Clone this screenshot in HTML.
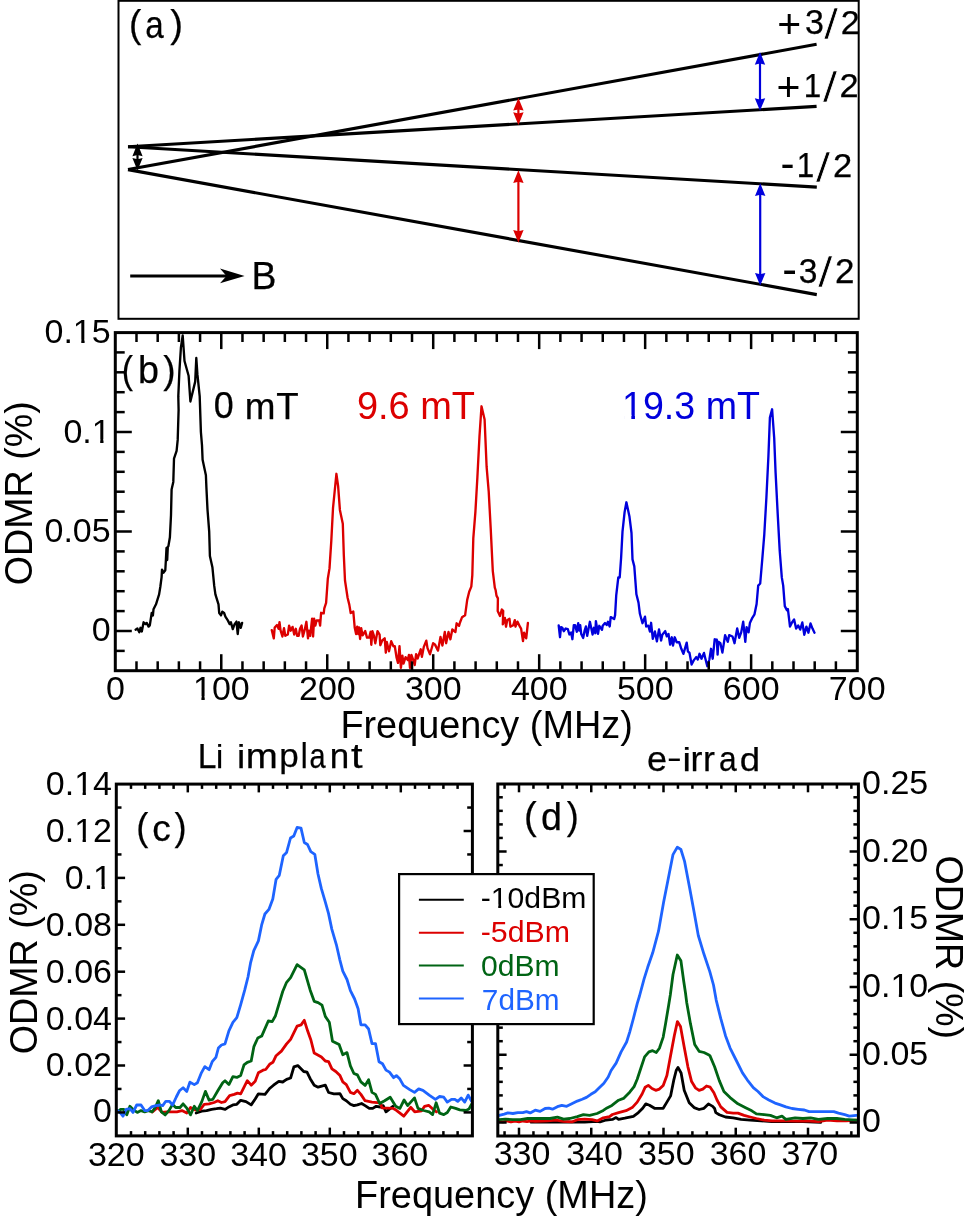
<!DOCTYPE html>
<html><head><meta charset="utf-8"><title>ODMR figure</title>
<style>html,body{margin:0;padding:0;background:#fff;overflow:hidden;}svg{display:block;will-change:transform;}
text{font-family:"Liberation Sans",sans-serif;}</style></head>
<body>
<svg width="969" height="1220" viewBox="0 0 969 1220">
<rect width="100%" height="100%" fill="#fff"/>
<rect x="118.5" y="0.8" width="740.2" height="318" fill="none" stroke="#000" stroke-width="2"/>
<line x1="128" y1="169.6" x2="816.6" y2="44.3" stroke="#000" stroke-width="3.1"/>
<line x1="128" y1="146.8" x2="816.6" y2="106.4" stroke="#000" stroke-width="3.1"/>
<line x1="128" y1="146.8" x2="816.8" y2="187.1" stroke="#000" stroke-width="3.1"/>
<line x1="128" y1="169.6" x2="816.8" y2="294.6" stroke="#000" stroke-width="3.1"/>
<line x1="137.5" y1="153.68" x2="137.5" y2="160.52" stroke="#000" stroke-width="2.2"/>
<path d="M137.5 143.6L142.6 156.2L137.5 155L132.4 156.2Z" fill="#000"/>
<path d="M137.5 170.6L142.6 158L137.5 159.2L132.4 158Z" fill="#000"/>
<line x1="518.4" y1="108.08" x2="518.4" y2="114.82" stroke="#dc0000" stroke-width="2.2"/>
<path d="M518.4 98L523.6 110.6L518.4 109.4L513.2 110.6Z" fill="#dc0000"/>
<path d="M518.4 124.9L523.6 112.3L518.4 113.5L513.2 112.3Z" fill="#dc0000"/>
<line x1="518.4" y1="180.38" x2="518.4" y2="232.62" stroke="#dc0000" stroke-width="2.2"/>
<path d="M518.4 170.3L523.6 182.9L518.4 181.7L513.2 182.9Z" fill="#dc0000"/>
<path d="M518.4 242.7L523.6 230.1L518.4 231.3L513.2 230.1Z" fill="#dc0000"/>
<line x1="760" y1="62.18" x2="760" y2="100.72" stroke="#0000dc" stroke-width="2.2"/>
<path d="M760 52.1L765.2 64.7L760 63.5L754.8 64.7Z" fill="#0000dc"/>
<path d="M760 110.8L765.2 98.2L760 99.4L754.8 98.2Z" fill="#0000dc"/>
<line x1="760.2" y1="193.38" x2="760.2" y2="275.52" stroke="#0000dc" stroke-width="2.2"/>
<path d="M760.2 183.3L765.4 195.9L760.2 194.7L755 195.9Z" fill="#0000dc"/>
<path d="M760.2 285.6L765.4 273L760.2 274.2L755 273Z" fill="#0000dc"/>
<line x1="130.2" y1="276" x2="232" y2="276" stroke="#000" stroke-width="3"/>
<path d="M244.6 276L220 268.4L226.5 276L220 283.3Z" fill="#000"/>
<polyline points="135.6,629.7 137.4,628.5 139.3,632.2 140.5,627.8 141.8,631.5 143.6,622.3 145.5,624.1 146.7,622.9 148.6,626.6 149.8,625.4 151.7,613 152.9,615.4 153.5,609.3 156,604.3 159.1,594.4 160.3,587 161.6,577.1 162,569.6 163.4,572.7 165.3,570.2 165.9,559.7 166.5,548 167.2,560 167.8,547 168.4,546.1 169.9,537.2 171,515.1 171.6,489.6 173.3,481.9 174,458.7 176.6,450.9 177.7,439.9 178.6,410 178.3,396.4 179.4,371.3 180.9,347.7 182.7,335.5 184.5,361 188.6,375.7 190.4,401.5 195.2,381.6 196.3,358 197.4,374.2 199.7,396.4 200.9,432.1 202,445.4 202.6,459.8 205.9,475.3 206.4,487.4 207.5,509.6 209.2,531.7 209.9,556 212.4,567.2 214.2,585.7 215.4,594.4 218.5,604.3 219.2,613 221,615.4 222.3,611.7 224.1,613 225.4,616.7 227.8,620.4 229.7,624.1 230.9,622.3 232.8,629.1 234.6,624.1 236.5,621.6 237.7,634 239,622.3 240.8,627.8 242.1,622.9" fill="none" stroke="#000" stroke-width="2.35" stroke-linejoin="round" stroke-linecap="round"/>
<polyline points="271.8,630.1 273.8,638.4 274.7,627.5 277,625 278.6,628.8 279.5,622.1 280.5,630.1 282.4,636.5 284,628.2 285.3,635.8 287.8,634.5 289.1,625.6 290.7,630.7 292.6,626.9 294.2,634.5 295.8,628.8 297.1,635.8 298.7,635.8 300,628.8 301.6,625.6 302.9,636.5 304.8,629.4 306.4,621.8 308,638.4 308.9,630.7 310.2,635.8 312.1,618.6 313.1,636.5 314.1,618.6 315.3,625.6 316.6,620.5 319.2,620.5 320.1,625.6 321.1,612.8 323.7,613.4 324.3,608.3 326.1,602.9 327.8,578.8 329.5,568.4 331.3,540.9 333,508.2 334.7,491 336.4,473.8 338.1,485.8 339.9,509.9 342.8,523.7 343.8,554.7 345,580.5 347.6,597.7 349.3,604.6 350.7,613 353.3,611.6 354.7,627.5 356.1,634 357.2,626.7 358.3,634 359,627.5 360.1,639 361.2,628.2 362.6,635.4 365.2,631.1 367,637.6 369.1,637.6 370.6,631.8 371.3,644.8 372.4,631.1 373.8,635.4 375.3,643.4 377.5,631.1 379.6,634.7 380.3,645.2 382.2,640.5 384.7,638.3 385.8,652.7 386.8,641.9 389,651.3 391.2,641.2 393.4,646.2 394.8,646.2 396.6,657.8 398,662.9 399.5,646.2 400.9,667.9 402.4,655.6 403.5,663.6 405.6,657.1 407.8,660 408.9,654.9 410,667.9 411.4,654.9 413.2,660 414.7,665 416.1,654.2 417.6,658.5 420.7,649.3 421.9,656.8 423.8,646.9 426.3,640.7 427.5,648.1 430,654.3 433.1,643.2 434.9,644.4 438,650.6 440.5,637 442.4,645.6 444.8,632 446.1,643.2 448.5,632 450.4,639.4 452.3,629.5 455.4,632 456.6,623.3 459.1,625.8 460,622.5 462,617.3 465.1,615.3 467.2,599.9 469.2,591.7 471.3,586.6 472.3,575.3 473.3,538.4 475.4,511.8 477.4,477 479.5,436 481.5,406.3 484.6,419.6 486.6,466.7 488.7,491.3 490.7,528.2 492.8,571.2 494.8,587.6 495.6,590 496.5,595.6 497.9,598.4 497.7,610.9 500,616 501.8,609.5 503.2,610.9 502.8,624.4 504.9,617.9 506,626.7 507.2,620.2 509.5,618.8 510.4,626.7 513.2,625.3 514.8,620.2 515.5,626.7 517.4,621.6 520.2,627.2 521.1,628.6 523,641.1 524.1,632.7 526.2,638.3 527.9,623" fill="none" stroke="#dc0000" stroke-width="2.35" stroke-linejoin="round" stroke-linecap="round"/>
<polyline points="558.7,625.5 560,637.2 561,627.1 562.4,627.8 563.7,631.2 565.7,628.5 567.8,629.2 569.4,634.5 571.1,632.5 572.4,639.2 573.8,625.1 575.1,625.1 576.8,631.8 578.2,623.1 579.2,630.5 580.2,625.1 581.2,633.9 583.2,637.9 584.5,631.2 585.9,626.5 587.2,635.9 589.9,621.8 592.6,634.5 593.9,627.8 595.3,633.2 595.9,621.1 598,633.9 599.3,625.8 602,629.8 602.7,625.8 605,623.1 606.7,625.1 608,621.8 609.7,626.5 610.7,617.1 614.1,619.1 615.1,615.1 616.2,595.7 618.3,577.5 619.7,577.5 621.1,558 622.5,531.6 624.6,512.1 626.4,502.3 629.4,516.2 631.5,533 632.5,559.4 634.3,566.4 636.4,594.3 638.5,602.6 639.9,613.8 642.5,623.2 645,616.6 646.2,626.5 648.3,625.7 649.9,631.5 651.1,622.8 652.8,638.9 654.9,631.5 656.9,641.4 659,629.4 661.1,640.6 662.3,634.8 665.2,631.1 666.8,636.4 668.5,633.9 670.1,644.7 671.8,637.3 673,645.5 674.7,637.3 676.7,642.2 679.2,642.2 681.3,648.8 683.4,653.8 686.7,642.6 687.9,651.3 689.5,652.9 691.6,664.5 693.7,660.4 696.2,657.1 697.8,659.5 699.5,653.8 701.5,658.7 704,652.9 705.2,657.9 707.3,666.2 709.4,659.5 711,648.8 712.7,658.7 714.7,639.3 716.8,639.7 717.6,654.6 718.4,641.8 720.4,643.2 722.4,652.6 725.1,635.1 727.8,641.8 729.2,635.1 732.5,636.5 734.5,643.2 737.2,628.4 739.2,637.8 741.2,632.4 743.2,621.7 745.3,641.8 746.6,627.1 748.6,632.4 749.9,623.1 752,618.4 754.5,614.3 756.6,604 758.2,585.6 760.2,583.5 762.3,558.9 764.3,534.3 766.4,497.5 768.4,456.5 769.9,417.5 772.1,409.3 774.2,438 775.6,472.9 777.7,513.9 779.7,550.7 781.8,577.4 783.2,585.6 784.8,606.1 786.9,610.2 787.9,609.1 790,626.6 792,622.5 794.1,619.4 796.1,628.6 798.2,625.5 800.2,629.6 802.3,622.5 804.3,634.8 806.4,626.6 808.4,632.7 810.5,623.5 812.5,628.6 814.5,632.7" fill="none" stroke="#0000dc" stroke-width="2.35" stroke-linejoin="round" stroke-linecap="round"/>
<line x1="136.49" y1="670.7" x2="136.49" y2="661.3" stroke="#000" stroke-width="2.5"/>
<line x1="136.49" y1="332.6" x2="136.49" y2="342" stroke="#000" stroke-width="2.5"/>
<line x1="157.69" y1="670.7" x2="157.69" y2="661.3" stroke="#000" stroke-width="2.5"/>
<line x1="157.69" y1="332.6" x2="157.69" y2="342" stroke="#000" stroke-width="2.5"/>
<line x1="178.88" y1="670.7" x2="178.88" y2="661.3" stroke="#000" stroke-width="2.5"/>
<line x1="178.88" y1="332.6" x2="178.88" y2="342" stroke="#000" stroke-width="2.5"/>
<line x1="200.08" y1="670.7" x2="200.08" y2="661.3" stroke="#000" stroke-width="2.5"/>
<line x1="200.08" y1="332.6" x2="200.08" y2="342" stroke="#000" stroke-width="2.5"/>
<line x1="221.27" y1="670.7" x2="221.27" y2="654.2" stroke="#000" stroke-width="2.5"/>
<line x1="221.27" y1="332.6" x2="221.27" y2="349.1" stroke="#000" stroke-width="2.5"/>
<line x1="242.46" y1="670.7" x2="242.46" y2="661.3" stroke="#000" stroke-width="2.5"/>
<line x1="242.46" y1="332.6" x2="242.46" y2="342" stroke="#000" stroke-width="2.5"/>
<line x1="263.66" y1="670.7" x2="263.66" y2="661.3" stroke="#000" stroke-width="2.5"/>
<line x1="263.66" y1="332.6" x2="263.66" y2="342" stroke="#000" stroke-width="2.5"/>
<line x1="284.85" y1="670.7" x2="284.85" y2="661.3" stroke="#000" stroke-width="2.5"/>
<line x1="284.85" y1="332.6" x2="284.85" y2="342" stroke="#000" stroke-width="2.5"/>
<line x1="306.05" y1="670.7" x2="306.05" y2="661.3" stroke="#000" stroke-width="2.5"/>
<line x1="306.05" y1="332.6" x2="306.05" y2="342" stroke="#000" stroke-width="2.5"/>
<line x1="327.24" y1="670.7" x2="327.24" y2="654.2" stroke="#000" stroke-width="2.5"/>
<line x1="327.24" y1="332.6" x2="327.24" y2="349.1" stroke="#000" stroke-width="2.5"/>
<line x1="348.43" y1="670.7" x2="348.43" y2="661.3" stroke="#000" stroke-width="2.5"/>
<line x1="348.43" y1="332.6" x2="348.43" y2="342" stroke="#000" stroke-width="2.5"/>
<line x1="369.63" y1="670.7" x2="369.63" y2="661.3" stroke="#000" stroke-width="2.5"/>
<line x1="369.63" y1="332.6" x2="369.63" y2="342" stroke="#000" stroke-width="2.5"/>
<line x1="390.82" y1="670.7" x2="390.82" y2="661.3" stroke="#000" stroke-width="2.5"/>
<line x1="390.82" y1="332.6" x2="390.82" y2="342" stroke="#000" stroke-width="2.5"/>
<line x1="412.02" y1="670.7" x2="412.02" y2="661.3" stroke="#000" stroke-width="2.5"/>
<line x1="412.02" y1="332.6" x2="412.02" y2="342" stroke="#000" stroke-width="2.5"/>
<line x1="433.21" y1="670.7" x2="433.21" y2="654.2" stroke="#000" stroke-width="2.5"/>
<line x1="433.21" y1="332.6" x2="433.21" y2="349.1" stroke="#000" stroke-width="2.5"/>
<line x1="454.4" y1="670.7" x2="454.4" y2="661.3" stroke="#000" stroke-width="2.5"/>
<line x1="454.4" y1="332.6" x2="454.4" y2="342" stroke="#000" stroke-width="2.5"/>
<line x1="475.6" y1="670.7" x2="475.6" y2="661.3" stroke="#000" stroke-width="2.5"/>
<line x1="475.6" y1="332.6" x2="475.6" y2="342" stroke="#000" stroke-width="2.5"/>
<line x1="496.79" y1="670.7" x2="496.79" y2="661.3" stroke="#000" stroke-width="2.5"/>
<line x1="496.79" y1="332.6" x2="496.79" y2="342" stroke="#000" stroke-width="2.5"/>
<line x1="517.99" y1="670.7" x2="517.99" y2="661.3" stroke="#000" stroke-width="2.5"/>
<line x1="517.99" y1="332.6" x2="517.99" y2="342" stroke="#000" stroke-width="2.5"/>
<line x1="539.18" y1="670.7" x2="539.18" y2="654.2" stroke="#000" stroke-width="2.5"/>
<line x1="539.18" y1="332.6" x2="539.18" y2="349.1" stroke="#000" stroke-width="2.5"/>
<line x1="560.37" y1="670.7" x2="560.37" y2="661.3" stroke="#000" stroke-width="2.5"/>
<line x1="560.37" y1="332.6" x2="560.37" y2="342" stroke="#000" stroke-width="2.5"/>
<line x1="581.57" y1="670.7" x2="581.57" y2="661.3" stroke="#000" stroke-width="2.5"/>
<line x1="581.57" y1="332.6" x2="581.57" y2="342" stroke="#000" stroke-width="2.5"/>
<line x1="602.76" y1="670.7" x2="602.76" y2="661.3" stroke="#000" stroke-width="2.5"/>
<line x1="602.76" y1="332.6" x2="602.76" y2="342" stroke="#000" stroke-width="2.5"/>
<line x1="623.96" y1="670.7" x2="623.96" y2="661.3" stroke="#000" stroke-width="2.5"/>
<line x1="623.96" y1="332.6" x2="623.96" y2="342" stroke="#000" stroke-width="2.5"/>
<line x1="645.15" y1="670.7" x2="645.15" y2="654.2" stroke="#000" stroke-width="2.5"/>
<line x1="645.15" y1="332.6" x2="645.15" y2="349.1" stroke="#000" stroke-width="2.5"/>
<line x1="666.34" y1="670.7" x2="666.34" y2="661.3" stroke="#000" stroke-width="2.5"/>
<line x1="666.34" y1="332.6" x2="666.34" y2="342" stroke="#000" stroke-width="2.5"/>
<line x1="687.54" y1="670.7" x2="687.54" y2="661.3" stroke="#000" stroke-width="2.5"/>
<line x1="687.54" y1="332.6" x2="687.54" y2="342" stroke="#000" stroke-width="2.5"/>
<line x1="708.73" y1="670.7" x2="708.73" y2="661.3" stroke="#000" stroke-width="2.5"/>
<line x1="708.73" y1="332.6" x2="708.73" y2="342" stroke="#000" stroke-width="2.5"/>
<line x1="729.93" y1="670.7" x2="729.93" y2="661.3" stroke="#000" stroke-width="2.5"/>
<line x1="729.93" y1="332.6" x2="729.93" y2="342" stroke="#000" stroke-width="2.5"/>
<line x1="751.12" y1="670.7" x2="751.12" y2="654.2" stroke="#000" stroke-width="2.5"/>
<line x1="751.12" y1="332.6" x2="751.12" y2="349.1" stroke="#000" stroke-width="2.5"/>
<line x1="772.31" y1="670.7" x2="772.31" y2="661.3" stroke="#000" stroke-width="2.5"/>
<line x1="772.31" y1="332.6" x2="772.31" y2="342" stroke="#000" stroke-width="2.5"/>
<line x1="793.51" y1="670.7" x2="793.51" y2="661.3" stroke="#000" stroke-width="2.5"/>
<line x1="793.51" y1="332.6" x2="793.51" y2="342" stroke="#000" stroke-width="2.5"/>
<line x1="814.7" y1="670.7" x2="814.7" y2="661.3" stroke="#000" stroke-width="2.5"/>
<line x1="814.7" y1="332.6" x2="814.7" y2="342" stroke="#000" stroke-width="2.5"/>
<line x1="835.9" y1="670.7" x2="835.9" y2="661.3" stroke="#000" stroke-width="2.5"/>
<line x1="835.9" y1="332.6" x2="835.9" y2="342" stroke="#000" stroke-width="2.5"/>
<line x1="115.3" y1="650.9" x2="124.7" y2="650.9" stroke="#000" stroke-width="2.5"/>
<line x1="857.3" y1="650.9" x2="847.9" y2="650.9" stroke="#000" stroke-width="2.5"/>
<line x1="115.3" y1="631" x2="131.8" y2="631" stroke="#000" stroke-width="2.5"/>
<line x1="857.3" y1="631" x2="840.8" y2="631" stroke="#000" stroke-width="2.5"/>
<line x1="115.3" y1="611.1" x2="124.7" y2="611.1" stroke="#000" stroke-width="2.5"/>
<line x1="857.3" y1="611.1" x2="847.9" y2="611.1" stroke="#000" stroke-width="2.5"/>
<line x1="115.3" y1="591.2" x2="124.7" y2="591.2" stroke="#000" stroke-width="2.5"/>
<line x1="857.3" y1="591.2" x2="847.9" y2="591.2" stroke="#000" stroke-width="2.5"/>
<line x1="115.3" y1="571.3" x2="124.7" y2="571.3" stroke="#000" stroke-width="2.5"/>
<line x1="857.3" y1="571.3" x2="847.9" y2="571.3" stroke="#000" stroke-width="2.5"/>
<line x1="115.3" y1="551.4" x2="124.7" y2="551.4" stroke="#000" stroke-width="2.5"/>
<line x1="857.3" y1="551.4" x2="847.9" y2="551.4" stroke="#000" stroke-width="2.5"/>
<line x1="115.3" y1="531.5" x2="131.8" y2="531.5" stroke="#000" stroke-width="2.5"/>
<line x1="857.3" y1="531.5" x2="840.8" y2="531.5" stroke="#000" stroke-width="2.5"/>
<line x1="115.3" y1="511.6" x2="124.7" y2="511.6" stroke="#000" stroke-width="2.5"/>
<line x1="857.3" y1="511.6" x2="847.9" y2="511.6" stroke="#000" stroke-width="2.5"/>
<line x1="115.3" y1="491.7" x2="124.7" y2="491.7" stroke="#000" stroke-width="2.5"/>
<line x1="857.3" y1="491.7" x2="847.9" y2="491.7" stroke="#000" stroke-width="2.5"/>
<line x1="115.3" y1="471.8" x2="124.7" y2="471.8" stroke="#000" stroke-width="2.5"/>
<line x1="857.3" y1="471.8" x2="847.9" y2="471.8" stroke="#000" stroke-width="2.5"/>
<line x1="115.3" y1="451.9" x2="124.7" y2="451.9" stroke="#000" stroke-width="2.5"/>
<line x1="857.3" y1="451.9" x2="847.9" y2="451.9" stroke="#000" stroke-width="2.5"/>
<line x1="115.3" y1="432" x2="131.8" y2="432" stroke="#000" stroke-width="2.5"/>
<line x1="857.3" y1="432" x2="840.8" y2="432" stroke="#000" stroke-width="2.5"/>
<line x1="115.3" y1="412.1" x2="124.7" y2="412.1" stroke="#000" stroke-width="2.5"/>
<line x1="857.3" y1="412.1" x2="847.9" y2="412.1" stroke="#000" stroke-width="2.5"/>
<line x1="115.3" y1="392.2" x2="124.7" y2="392.2" stroke="#000" stroke-width="2.5"/>
<line x1="857.3" y1="392.2" x2="847.9" y2="392.2" stroke="#000" stroke-width="2.5"/>
<line x1="115.3" y1="372.3" x2="124.7" y2="372.3" stroke="#000" stroke-width="2.5"/>
<line x1="857.3" y1="372.3" x2="847.9" y2="372.3" stroke="#000" stroke-width="2.5"/>
<line x1="115.3" y1="352.4" x2="124.7" y2="352.4" stroke="#000" stroke-width="2.5"/>
<line x1="857.3" y1="352.4" x2="847.9" y2="352.4" stroke="#000" stroke-width="2.5"/>
<rect x="115.3" y="332.6" width="742" height="338.1" fill="none" stroke="#000" stroke-width="3"/>
<polyline points="196.2,1113 201.7,1111.2 206.6,1110.6 211.6,1109.3 216.5,1108.7 220.3,1108.1 225.2,1109.3 228.9,1106.9 232.9,1104.9 236.8,1104.3 240.7,1100.3 246,1101.6 251.2,1104.9 255.2,1099 258.4,1093.8 265,1094.4 269.6,1088.5 273.5,1085.2 278.8,1081.3 282.7,1082 286.6,1079.3 290.6,1078 293.9,1066.9 297.8,1065.6 303.7,1071.5 307,1072.1 310.2,1078.7 314.2,1085.2 318.1,1087.2 325.3,1085.2 328.6,1092.5 333.9,1093.8 340,1093.7 342.8,1098.6 346.3,1100.7 350.4,1104.2 353.9,1105.6 357.4,1104.9 361.6,1103.5 365.1,1105.6 369.3,1108.4 372.7,1108.4 376.2,1106.3 380.4,1107 383.2,1105.6 386,1111.8 392.9,1106.3" fill="none" stroke="#000" stroke-width="2.8" stroke-linejoin="round" stroke-linecap="round"/>
<polyline points="152.4,1112 157.7,1107.5 162.1,1112.4 167,1111.8 172,1111.8 176.9,1111.8 181.9,1110.6 186.8,1113.1 190.5,1107.5 195.5,1110 200.4,1109.3 204.2,1104.4 209.1,1103.8 214.1,1102.5 217.8,1100.7 221.5,1102.5 225,1101.6 229.6,1095.7 234.2,1094.4 237.5,1093.1 240.7,1093.8 247.3,1080.7 251.2,1085.2 255.2,1081.3 258.4,1072.8 263,1070.2 265.7,1069.5 269.6,1064.3 272.9,1062.3 276.1,1055.7 281.4,1051.1 286.6,1043.9 290.6,1039.3 297.1,1026.2 301.1,1024.9 304.3,1020.3 307.6,1030.8 310.9,1040 314.2,1053.1 321.4,1057 325.3,1061 328.6,1061.6 331.9,1068.9 335.8,1071.5 340,1075.6 342.8,1081.9 346.3,1084.7 350.4,1092.4 353.9,1093.7 357.4,1090.3 360.9,1094.4 365.1,1100.7 372,1102.1 380,1102.8 382,1107.8 392.9,1108.3 396.4,1110.3 403.8,1116.2 410.7,1107.3 414.7,1111.8 421.6,1110.8 424.6,1106.3 428.6,1105.3 432.5,1108.8 436.5,1111.8" fill="none" stroke="#dc0000" stroke-width="2.8" stroke-linejoin="round" stroke-linecap="round"/>
<polyline points="117.5,1111.8 120.6,1109.3 123.7,1109.3 126.8,1114.9 129.9,1106.3 133.6,1110 137.3,1112.4 141,1110.6 144.7,1111.8 148.4,1110.6 152.2,1111.8 155.2,1107.5 158.3,1100.7 161.4,1111.8 165.2,1114.9 168.9,1110.6 172.6,1104.4 175.7,1107.5 180,1107.5 183.1,1103.8 186.8,1108.1 190.5,1114.9 194.3,1106.3 197.4,1110.6 201.7,1101.9 205.4,1091.4 209.1,1100.1 212.8,1099.4 217.8,1090.8 222.7,1082.7 225,1080.7 228.9,1084.6 232.9,1076.7 236.8,1077.4 240.7,1075.4 244,1064.9 247.3,1062.3 251.2,1061 253.9,1046.6 257.8,1038 261.7,1036.1 268.3,1021 272.2,1021.6 275.5,1015.7 282.7,991.5 286.6,982.3 290.6,977.7 297.1,964.6 304.3,969.8 310.2,990.2 314.2,1001.3 318.1,1002.6 322,1005.2 325.3,1016.4 329.3,1022.3 332.5,1041.3 339.1,1044.6 342.8,1054.7 347,1052.6 350.4,1065.9 353.9,1073.5 357.4,1074.9 360.9,1081.9 365.1,1085.4 368.6,1079.8 372,1092.4 375.5,1094.4 379.7,1103.5 384.6,1100.7 390.2,1097.2 395.7,1106.3 399.9,1108.4 404.1,1100 407.6,1105.6 414.5,1097.9 418,1108.4 423.6,1110.5 429.2,1111.9 432.6,1114.6 436.1,1102.8 439.6,1113.2 443.8,1114.6 447.3,1112.5 450.8,1107 455.6,1108.4 459.8,1109.8 466.1,1110.5 468.9,1109.1 471.6,1104.2" fill="none" stroke="#006414" stroke-width="2.8" stroke-linejoin="round" stroke-linecap="round"/>
<polyline points="117.5,1110.6 120.6,1113.1 123,1116.2 126.1,1109.3 129.9,1108.7 133,1112.4 136.7,1105 141,1105 144.7,1110.6 147.8,1110.6 151.5,1106.9 155.9,1105.6 160.2,1105 162.7,1105.6 165.8,1101.3 169.5,1101.3 172.6,1105 176.3,1097 179.4,1090.8 183.1,1087.7 186.8,1091.4 189.9,1082.1 194.3,1084.6 197.4,1082.7 201.1,1073.4 204.8,1066.6 209.1,1069.7 212.2,1061.7 215.9,1057.3 218.4,1048 221.5,1045 225,1043.9 228.9,1030.8 232.9,1022.3 236.8,1017.7 240.7,1004.6 244.7,990.2 248,977 250.5,963.2 253.8,950.7 258.4,940.9 261.6,925.2 264.9,914 268.9,909.4 272.8,898.9 276.1,879.3 279.3,875.3 283.3,855.7 286.6,852.4 290.5,838 293.8,836 297.1,827.5 301,828.1 304.3,842.5 307.5,844.5 310.8,851.7 314.8,854.3 318,874 321.3,888.4 325.2,901.6 328.5,913.4 331.8,929.1 336.4,944.8 339.7,959.3 342.8,971.1 347,979.5 350.4,990.6 354.6,999 358.1,1008.8 360.9,1024.8 365.1,1024.8 368.6,1029 372,1043.6 375.5,1043.6 379,1061.7 382.5,1063.8 386,1070.1 389.5,1072.1 393.6,1077.7 396.4,1075.6 399.9,1079.1 403.4,1085.4 409.7,1089.6 414.5,1092.4 418.7,1088.9 422.9,1090.3 429.2,1095.1 435.4,1099.3 439.6,1096.5 443.8,1097.2 447.3,1102.1 451.5,1099.3 454.9,1099.3 457.7,1101.4 461.2,1097.9 464.7,1102.1 468.2,1095.1 471.6,1101.4" fill="none" stroke="#1e64ff" stroke-width="2.8" stroke-linejoin="round" stroke-linecap="round"/>
<line x1="131" y1="1135.9" x2="131" y2="1131.1" stroke="#000" stroke-width="2.5"/>
<line x1="131" y1="784.1" x2="131" y2="788.9" stroke="#000" stroke-width="2.5"/>
<line x1="145.2" y1="1135.9" x2="145.2" y2="1131.1" stroke="#000" stroke-width="2.5"/>
<line x1="145.2" y1="784.1" x2="145.2" y2="788.9" stroke="#000" stroke-width="2.5"/>
<line x1="159.4" y1="1135.9" x2="159.4" y2="1131.1" stroke="#000" stroke-width="2.5"/>
<line x1="159.4" y1="784.1" x2="159.4" y2="788.9" stroke="#000" stroke-width="2.5"/>
<line x1="173.6" y1="1135.9" x2="173.6" y2="1131.1" stroke="#000" stroke-width="2.5"/>
<line x1="173.6" y1="784.1" x2="173.6" y2="788.9" stroke="#000" stroke-width="2.5"/>
<line x1="187.8" y1="1135.9" x2="187.8" y2="1127.6" stroke="#000" stroke-width="2.5"/>
<line x1="187.8" y1="784.1" x2="187.8" y2="792.4" stroke="#000" stroke-width="2.5"/>
<line x1="202" y1="1135.9" x2="202" y2="1131.1" stroke="#000" stroke-width="2.5"/>
<line x1="202" y1="784.1" x2="202" y2="788.9" stroke="#000" stroke-width="2.5"/>
<line x1="216.2" y1="1135.9" x2="216.2" y2="1131.1" stroke="#000" stroke-width="2.5"/>
<line x1="216.2" y1="784.1" x2="216.2" y2="788.9" stroke="#000" stroke-width="2.5"/>
<line x1="230.4" y1="1135.9" x2="230.4" y2="1131.1" stroke="#000" stroke-width="2.5"/>
<line x1="230.4" y1="784.1" x2="230.4" y2="788.9" stroke="#000" stroke-width="2.5"/>
<line x1="244.6" y1="1135.9" x2="244.6" y2="1131.1" stroke="#000" stroke-width="2.5"/>
<line x1="244.6" y1="784.1" x2="244.6" y2="788.9" stroke="#000" stroke-width="2.5"/>
<line x1="258.8" y1="1135.9" x2="258.8" y2="1127.6" stroke="#000" stroke-width="2.5"/>
<line x1="258.8" y1="784.1" x2="258.8" y2="792.4" stroke="#000" stroke-width="2.5"/>
<line x1="273" y1="1135.9" x2="273" y2="1131.1" stroke="#000" stroke-width="2.5"/>
<line x1="273" y1="784.1" x2="273" y2="788.9" stroke="#000" stroke-width="2.5"/>
<line x1="287.2" y1="1135.9" x2="287.2" y2="1131.1" stroke="#000" stroke-width="2.5"/>
<line x1="287.2" y1="784.1" x2="287.2" y2="788.9" stroke="#000" stroke-width="2.5"/>
<line x1="301.4" y1="1135.9" x2="301.4" y2="1131.1" stroke="#000" stroke-width="2.5"/>
<line x1="301.4" y1="784.1" x2="301.4" y2="788.9" stroke="#000" stroke-width="2.5"/>
<line x1="315.6" y1="1135.9" x2="315.6" y2="1131.1" stroke="#000" stroke-width="2.5"/>
<line x1="315.6" y1="784.1" x2="315.6" y2="788.9" stroke="#000" stroke-width="2.5"/>
<line x1="329.8" y1="1135.9" x2="329.8" y2="1127.6" stroke="#000" stroke-width="2.5"/>
<line x1="329.8" y1="784.1" x2="329.8" y2="792.4" stroke="#000" stroke-width="2.5"/>
<line x1="344" y1="1135.9" x2="344" y2="1131.1" stroke="#000" stroke-width="2.5"/>
<line x1="344" y1="784.1" x2="344" y2="788.9" stroke="#000" stroke-width="2.5"/>
<line x1="358.2" y1="1135.9" x2="358.2" y2="1131.1" stroke="#000" stroke-width="2.5"/>
<line x1="358.2" y1="784.1" x2="358.2" y2="788.9" stroke="#000" stroke-width="2.5"/>
<line x1="372.4" y1="1135.9" x2="372.4" y2="1131.1" stroke="#000" stroke-width="2.5"/>
<line x1="372.4" y1="784.1" x2="372.4" y2="788.9" stroke="#000" stroke-width="2.5"/>
<line x1="386.6" y1="1135.9" x2="386.6" y2="1131.1" stroke="#000" stroke-width="2.5"/>
<line x1="386.6" y1="784.1" x2="386.6" y2="788.9" stroke="#000" stroke-width="2.5"/>
<line x1="400.8" y1="1135.9" x2="400.8" y2="1127.6" stroke="#000" stroke-width="2.5"/>
<line x1="400.8" y1="784.1" x2="400.8" y2="792.4" stroke="#000" stroke-width="2.5"/>
<line x1="415" y1="1135.9" x2="415" y2="1131.1" stroke="#000" stroke-width="2.5"/>
<line x1="415" y1="784.1" x2="415" y2="788.9" stroke="#000" stroke-width="2.5"/>
<line x1="429.2" y1="1135.9" x2="429.2" y2="1131.1" stroke="#000" stroke-width="2.5"/>
<line x1="429.2" y1="784.1" x2="429.2" y2="788.9" stroke="#000" stroke-width="2.5"/>
<line x1="443.4" y1="1135.9" x2="443.4" y2="1131.1" stroke="#000" stroke-width="2.5"/>
<line x1="443.4" y1="784.1" x2="443.4" y2="788.9" stroke="#000" stroke-width="2.5"/>
<line x1="457.6" y1="1135.9" x2="457.6" y2="1131.1" stroke="#000" stroke-width="2.5"/>
<line x1="457.6" y1="784.1" x2="457.6" y2="788.9" stroke="#000" stroke-width="2.5"/>
<line x1="116.3" y1="1112.4" x2="125.1" y2="1112.4" stroke="#000" stroke-width="2.5"/>
<line x1="472.4" y1="1112.4" x2="463.6" y2="1112.4" stroke="#000" stroke-width="2.5"/>
<line x1="116.3" y1="1088.95" x2="121.5" y2="1088.95" stroke="#000" stroke-width="2.5"/>
<line x1="472.4" y1="1088.95" x2="467.2" y2="1088.95" stroke="#000" stroke-width="2.5"/>
<line x1="116.3" y1="1065.5" x2="125.1" y2="1065.5" stroke="#000" stroke-width="2.5"/>
<line x1="472.4" y1="1065.5" x2="463.6" y2="1065.5" stroke="#000" stroke-width="2.5"/>
<line x1="116.3" y1="1042.05" x2="121.5" y2="1042.05" stroke="#000" stroke-width="2.5"/>
<line x1="472.4" y1="1042.05" x2="467.2" y2="1042.05" stroke="#000" stroke-width="2.5"/>
<line x1="116.3" y1="1018.6" x2="125.1" y2="1018.6" stroke="#000" stroke-width="2.5"/>
<line x1="472.4" y1="1018.6" x2="463.6" y2="1018.6" stroke="#000" stroke-width="2.5"/>
<line x1="116.3" y1="995.15" x2="121.5" y2="995.15" stroke="#000" stroke-width="2.5"/>
<line x1="472.4" y1="995.15" x2="467.2" y2="995.15" stroke="#000" stroke-width="2.5"/>
<line x1="116.3" y1="971.7" x2="125.1" y2="971.7" stroke="#000" stroke-width="2.5"/>
<line x1="472.4" y1="971.7" x2="463.6" y2="971.7" stroke="#000" stroke-width="2.5"/>
<line x1="116.3" y1="948.25" x2="121.5" y2="948.25" stroke="#000" stroke-width="2.5"/>
<line x1="472.4" y1="948.25" x2="467.2" y2="948.25" stroke="#000" stroke-width="2.5"/>
<line x1="116.3" y1="924.8" x2="125.1" y2="924.8" stroke="#000" stroke-width="2.5"/>
<line x1="472.4" y1="924.8" x2="463.6" y2="924.8" stroke="#000" stroke-width="2.5"/>
<line x1="116.3" y1="901.35" x2="121.5" y2="901.35" stroke="#000" stroke-width="2.5"/>
<line x1="472.4" y1="901.35" x2="467.2" y2="901.35" stroke="#000" stroke-width="2.5"/>
<line x1="116.3" y1="877.9" x2="125.1" y2="877.9" stroke="#000" stroke-width="2.5"/>
<line x1="472.4" y1="877.9" x2="463.6" y2="877.9" stroke="#000" stroke-width="2.5"/>
<line x1="116.3" y1="854.45" x2="121.5" y2="854.45" stroke="#000" stroke-width="2.5"/>
<line x1="472.4" y1="854.45" x2="467.2" y2="854.45" stroke="#000" stroke-width="2.5"/>
<line x1="472.4" y1="831" x2="463.6" y2="831" stroke="#000" stroke-width="2.5"/>
<line x1="116.3" y1="807.55" x2="121.5" y2="807.55" stroke="#000" stroke-width="2.5"/>
<line x1="472.4" y1="807.55" x2="467.2" y2="807.55" stroke="#000" stroke-width="2.5"/>
<rect x="116.3" y="784.1" width="356.1" height="351.8" fill="none" stroke="#000" stroke-width="3"/>
<polyline points="531,1122.2 540,1121.8 560,1122.2 584.7,1122.2 597.1,1121.3 600,1121.9 606.2,1120 612.4,1119.4 616.1,1117.6 618.6,1119.4 624.8,1118.2 633.4,1116.3 638.4,1112.6 642.7,1108.3 645.8,1103.9 649.5,1105.2 654.5,1108.3 659.4,1108.3 663.2,1108.3 666.9,1102.1 670.6,1095.9 673.7,1080.4 676.2,1070.5 678,1067.4 681.1,1073 684.2,1090.3 689.2,1102.7 694.1,1107.6 699.1,1109.5 704,1108.3 708.4,1103.9 712.7,1106.4 714.6,1108.5 715.8,1112.6 719.3,1114.7 725.5,1117 733.2,1117.8 741,1119.3 750.2,1120.1 761.1,1120.9 771.9,1121.6 787.4,1121.6 802.9,1121.6 820.7,1122.4" fill="none" stroke="#000" stroke-width="2.8" stroke-linejoin="round" stroke-linecap="round"/>
<polyline points="499.2,1121.3 503,1121.9 507,1121 511,1122 515,1121.2 519,1121.9 523,1121 527,1121.6 531,1120.9 535.2,1121.3 547.5,1120.9 556.2,1120.1 563.6,1121.3 572.3,1121.8 577.3,1119.7 584.7,1119.1 592.1,1119.7 597.1,1120.9 603.3,1117.8 609.5,1116.6 612.4,1114.5 618.6,1112.6 626,1110.7 632.2,1107.6 637.2,1102.1 642.1,1094 645.2,1087.2 648.3,1085.4 652,1088.5 655.7,1090.3 659.4,1089.1 663.2,1085.4 666.9,1075.4 670.6,1055.6 674.3,1035.8 677.4,1021.6 680.5,1026.5 684.2,1047 687.9,1066.8 691.6,1081.6 695.4,1087.8 699.1,1090.3 702.8,1089.1 706.5,1086 710.2,1087.2 713.9,1092.8 717,1100 720.8,1106.9 727,1112.4 733.2,1113.1 737.9,1113.1 744.1,1115.4 750.2,1117 756.4,1118.5 764.2,1120.1 771.9,1120.9 779.7,1120.9 787.4,1120.9 796.7,1121.2 806,1120.9 818.4,1121.6 827.6,1120.1 836.9,1120.9 846.2,1120.9 856.3,1120.1" fill="none" stroke="#dc0000" stroke-width="2.8" stroke-linejoin="round" stroke-linecap="round"/>
<polyline points="499.2,1119.7 505.4,1119.1 512.9,1119.7 520.3,1119.7 527.7,1118.5 535.2,1118.5 542.6,1118.5 550,1118.5 557.4,1117.2 563.6,1119.1 569.8,1118.5 577.3,1116.6 583.4,1114.7 589.6,1115.4 597.1,1113.5 603.3,1110.4 607,1107.9 611.9,1105.4 618.6,1100.2 623.5,1098.4 629.7,1092.2 634.1,1086.6 637.2,1079.2 640.9,1068 644.6,1056.9 648.9,1051.9 652.6,1050.7 656.3,1052.5 659.4,1048.2 663.2,1037.1 665.6,1023.4 668.7,1004.9 670.3,995 673,974.5 677.3,955 680.9,960.8 683.8,981.7 685.5,993 686.7,1002.4 690.4,1023.4 694.7,1044.5 699.1,1051.3 704,1052.5 709,1055 710,1055.9 714.6,1066.7 719.3,1080.6 723.9,1091.5 730.1,1097.6 737.9,1103.8 745.6,1107.7 751.8,1110.8 756.4,1113.9 764.2,1114.7 770.4,1115.4 776.6,1117.8 782,1116.2 785.9,1119.3 795.1,1117.8 802.9,1118.5 810.6,1117.8 818.4,1119.3 827.6,1118.5 836.9,1118.5 844.7,1119.3 856.3,1120.1" fill="none" stroke="#006414" stroke-width="2.8" stroke-linejoin="round" stroke-linecap="round"/>
<polyline points="499.2,1115.4 504.2,1114.1 507.9,1112.9 512.9,1113.5 517.8,1112.6 522.8,1112.6 526.5,1111.6 530.2,1112.9 535.2,1110.2 540.1,1111.4 545.1,1108.5 548.8,1108.2 552.5,1109.2 557.4,1106.7 561.8,1105.4 566.7,1106.3 572.3,1103.6 577.3,1101.1 582.2,1099.3 586.5,1097.4 590.9,1094.3 595.2,1091.8 599.5,1087.5 603.9,1083.2 608.2,1077 611.1,1070.5 616.1,1063.1 621.1,1051.9 626.6,1042 629.7,1032.1 633.4,1018.5 637.2,1003.6 639.5,996 644.1,978.8 647.7,967.3 652.7,952.8 658.5,931.2 663.6,902.3 667.9,880.6 673,854.6 677.3,847.1 680.9,849.5 684.5,861.1 689.6,887.8 693.9,910.9 698.3,935.5 704,954.3 709.8,971.6 713.5,985 716.2,1000.1 720.8,1018.7 725.5,1035.7 730.1,1048.1 736.3,1060.5 742.5,1072.9 747.2,1079.8 753.3,1087.6 758,1091.5 763.4,1096.9 768.8,1100 775,1103.1 779.7,1104.6 785.9,1106.9 792,1108.5 798.2,1109.3 804.4,1110 809.1,1111.6 818.4,1111.6 827.6,1111.6 833.8,1111.6 838.5,1113.1 844.7,1114.7 849.3,1116.2 856.3,1115.4" fill="none" stroke="#1e64ff" stroke-width="2.8" stroke-linejoin="round" stroke-linecap="round"/>
<line x1="504.55" y1="1136" x2="504.55" y2="1131.2" stroke="#000" stroke-width="2.5"/>
<line x1="504.55" y1="784" x2="504.55" y2="788.8" stroke="#000" stroke-width="2.5"/>
<line x1="519" y1="1136" x2="519" y2="1127.7" stroke="#000" stroke-width="2.5"/>
<line x1="519" y1="784" x2="519" y2="792.3" stroke="#000" stroke-width="2.5"/>
<line x1="533.45" y1="1136" x2="533.45" y2="1131.2" stroke="#000" stroke-width="2.5"/>
<line x1="533.45" y1="784" x2="533.45" y2="788.8" stroke="#000" stroke-width="2.5"/>
<line x1="547.9" y1="1136" x2="547.9" y2="1131.2" stroke="#000" stroke-width="2.5"/>
<line x1="547.9" y1="784" x2="547.9" y2="788.8" stroke="#000" stroke-width="2.5"/>
<line x1="562.35" y1="1136" x2="562.35" y2="1131.2" stroke="#000" stroke-width="2.5"/>
<line x1="562.35" y1="784" x2="562.35" y2="788.8" stroke="#000" stroke-width="2.5"/>
<line x1="576.8" y1="1136" x2="576.8" y2="1131.2" stroke="#000" stroke-width="2.5"/>
<line x1="576.8" y1="784" x2="576.8" y2="788.8" stroke="#000" stroke-width="2.5"/>
<line x1="591.25" y1="1136" x2="591.25" y2="1127.7" stroke="#000" stroke-width="2.5"/>
<line x1="591.25" y1="784" x2="591.25" y2="792.3" stroke="#000" stroke-width="2.5"/>
<line x1="605.7" y1="1136" x2="605.7" y2="1131.2" stroke="#000" stroke-width="2.5"/>
<line x1="605.7" y1="784" x2="605.7" y2="788.8" stroke="#000" stroke-width="2.5"/>
<line x1="620.15" y1="1136" x2="620.15" y2="1131.2" stroke="#000" stroke-width="2.5"/>
<line x1="620.15" y1="784" x2="620.15" y2="788.8" stroke="#000" stroke-width="2.5"/>
<line x1="634.6" y1="1136" x2="634.6" y2="1131.2" stroke="#000" stroke-width="2.5"/>
<line x1="634.6" y1="784" x2="634.6" y2="788.8" stroke="#000" stroke-width="2.5"/>
<line x1="649.05" y1="1136" x2="649.05" y2="1131.2" stroke="#000" stroke-width="2.5"/>
<line x1="649.05" y1="784" x2="649.05" y2="788.8" stroke="#000" stroke-width="2.5"/>
<line x1="663.5" y1="1136" x2="663.5" y2="1127.7" stroke="#000" stroke-width="2.5"/>
<line x1="663.5" y1="784" x2="663.5" y2="792.3" stroke="#000" stroke-width="2.5"/>
<line x1="677.95" y1="1136" x2="677.95" y2="1131.2" stroke="#000" stroke-width="2.5"/>
<line x1="677.95" y1="784" x2="677.95" y2="788.8" stroke="#000" stroke-width="2.5"/>
<line x1="692.4" y1="1136" x2="692.4" y2="1131.2" stroke="#000" stroke-width="2.5"/>
<line x1="692.4" y1="784" x2="692.4" y2="788.8" stroke="#000" stroke-width="2.5"/>
<line x1="706.85" y1="1136" x2="706.85" y2="1131.2" stroke="#000" stroke-width="2.5"/>
<line x1="706.85" y1="784" x2="706.85" y2="788.8" stroke="#000" stroke-width="2.5"/>
<line x1="721.3" y1="1136" x2="721.3" y2="1131.2" stroke="#000" stroke-width="2.5"/>
<line x1="721.3" y1="784" x2="721.3" y2="788.8" stroke="#000" stroke-width="2.5"/>
<line x1="735.75" y1="1136" x2="735.75" y2="1127.7" stroke="#000" stroke-width="2.5"/>
<line x1="735.75" y1="784" x2="735.75" y2="792.3" stroke="#000" stroke-width="2.5"/>
<line x1="750.2" y1="1136" x2="750.2" y2="1131.2" stroke="#000" stroke-width="2.5"/>
<line x1="750.2" y1="784" x2="750.2" y2="788.8" stroke="#000" stroke-width="2.5"/>
<line x1="764.65" y1="1136" x2="764.65" y2="1131.2" stroke="#000" stroke-width="2.5"/>
<line x1="764.65" y1="784" x2="764.65" y2="788.8" stroke="#000" stroke-width="2.5"/>
<line x1="779.1" y1="1136" x2="779.1" y2="1131.2" stroke="#000" stroke-width="2.5"/>
<line x1="779.1" y1="784" x2="779.1" y2="788.8" stroke="#000" stroke-width="2.5"/>
<line x1="793.55" y1="1136" x2="793.55" y2="1131.2" stroke="#000" stroke-width="2.5"/>
<line x1="793.55" y1="784" x2="793.55" y2="788.8" stroke="#000" stroke-width="2.5"/>
<line x1="808" y1="1136" x2="808" y2="1127.7" stroke="#000" stroke-width="2.5"/>
<line x1="808" y1="784" x2="808" y2="792.3" stroke="#000" stroke-width="2.5"/>
<line x1="822.45" y1="1136" x2="822.45" y2="1131.2" stroke="#000" stroke-width="2.5"/>
<line x1="822.45" y1="784" x2="822.45" y2="788.8" stroke="#000" stroke-width="2.5"/>
<line x1="836.9" y1="1136" x2="836.9" y2="1131.2" stroke="#000" stroke-width="2.5"/>
<line x1="836.9" y1="784" x2="836.9" y2="788.8" stroke="#000" stroke-width="2.5"/>
<line x1="851.35" y1="1136" x2="851.35" y2="1131.2" stroke="#000" stroke-width="2.5"/>
<line x1="851.35" y1="784" x2="851.35" y2="788.8" stroke="#000" stroke-width="2.5"/>
<line x1="497.8" y1="1122.5" x2="506.6" y2="1122.5" stroke="#000" stroke-width="2.5"/>
<line x1="858.4" y1="1122.5" x2="849.6" y2="1122.5" stroke="#000" stroke-width="2.5"/>
<line x1="497.8" y1="1108.95" x2="502.8" y2="1108.95" stroke="#000" stroke-width="2.5"/>
<line x1="858.4" y1="1108.95" x2="853.4" y2="1108.95" stroke="#000" stroke-width="2.5"/>
<line x1="497.8" y1="1095.4" x2="502.8" y2="1095.4" stroke="#000" stroke-width="2.5"/>
<line x1="858.4" y1="1095.4" x2="853.4" y2="1095.4" stroke="#000" stroke-width="2.5"/>
<line x1="497.8" y1="1081.85" x2="502.8" y2="1081.85" stroke="#000" stroke-width="2.5"/>
<line x1="858.4" y1="1081.85" x2="853.4" y2="1081.85" stroke="#000" stroke-width="2.5"/>
<line x1="497.8" y1="1068.3" x2="502.8" y2="1068.3" stroke="#000" stroke-width="2.5"/>
<line x1="858.4" y1="1068.3" x2="853.4" y2="1068.3" stroke="#000" stroke-width="2.5"/>
<line x1="497.8" y1="1054.75" x2="506.6" y2="1054.75" stroke="#000" stroke-width="2.5"/>
<line x1="858.4" y1="1054.75" x2="849.6" y2="1054.75" stroke="#000" stroke-width="2.5"/>
<line x1="497.8" y1="1041.2" x2="502.8" y2="1041.2" stroke="#000" stroke-width="2.5"/>
<line x1="858.4" y1="1041.2" x2="853.4" y2="1041.2" stroke="#000" stroke-width="2.5"/>
<line x1="497.8" y1="1027.65" x2="502.8" y2="1027.65" stroke="#000" stroke-width="2.5"/>
<line x1="858.4" y1="1027.65" x2="853.4" y2="1027.65" stroke="#000" stroke-width="2.5"/>
<line x1="497.8" y1="1014.1" x2="502.8" y2="1014.1" stroke="#000" stroke-width="2.5"/>
<line x1="858.4" y1="1014.1" x2="853.4" y2="1014.1" stroke="#000" stroke-width="2.5"/>
<line x1="497.8" y1="1000.55" x2="502.8" y2="1000.55" stroke="#000" stroke-width="2.5"/>
<line x1="858.4" y1="1000.55" x2="853.4" y2="1000.55" stroke="#000" stroke-width="2.5"/>
<line x1="497.8" y1="987" x2="506.6" y2="987" stroke="#000" stroke-width="2.5"/>
<line x1="858.4" y1="987" x2="849.6" y2="987" stroke="#000" stroke-width="2.5"/>
<line x1="497.8" y1="973.45" x2="502.8" y2="973.45" stroke="#000" stroke-width="2.5"/>
<line x1="858.4" y1="973.45" x2="853.4" y2="973.45" stroke="#000" stroke-width="2.5"/>
<line x1="497.8" y1="959.9" x2="502.8" y2="959.9" stroke="#000" stroke-width="2.5"/>
<line x1="858.4" y1="959.9" x2="853.4" y2="959.9" stroke="#000" stroke-width="2.5"/>
<line x1="497.8" y1="946.35" x2="502.8" y2="946.35" stroke="#000" stroke-width="2.5"/>
<line x1="858.4" y1="946.35" x2="853.4" y2="946.35" stroke="#000" stroke-width="2.5"/>
<line x1="497.8" y1="932.8" x2="502.8" y2="932.8" stroke="#000" stroke-width="2.5"/>
<line x1="858.4" y1="932.8" x2="853.4" y2="932.8" stroke="#000" stroke-width="2.5"/>
<line x1="497.8" y1="919.25" x2="506.6" y2="919.25" stroke="#000" stroke-width="2.5"/>
<line x1="858.4" y1="919.25" x2="849.6" y2="919.25" stroke="#000" stroke-width="2.5"/>
<line x1="497.8" y1="905.7" x2="502.8" y2="905.7" stroke="#000" stroke-width="2.5"/>
<line x1="858.4" y1="905.7" x2="853.4" y2="905.7" stroke="#000" stroke-width="2.5"/>
<line x1="497.8" y1="892.15" x2="502.8" y2="892.15" stroke="#000" stroke-width="2.5"/>
<line x1="858.4" y1="892.15" x2="853.4" y2="892.15" stroke="#000" stroke-width="2.5"/>
<line x1="497.8" y1="878.6" x2="502.8" y2="878.6" stroke="#000" stroke-width="2.5"/>
<line x1="858.4" y1="878.6" x2="853.4" y2="878.6" stroke="#000" stroke-width="2.5"/>
<line x1="497.8" y1="865.05" x2="502.8" y2="865.05" stroke="#000" stroke-width="2.5"/>
<line x1="858.4" y1="865.05" x2="853.4" y2="865.05" stroke="#000" stroke-width="2.5"/>
<line x1="497.8" y1="851.5" x2="506.6" y2="851.5" stroke="#000" stroke-width="2.5"/>
<line x1="858.4" y1="851.5" x2="849.6" y2="851.5" stroke="#000" stroke-width="2.5"/>
<line x1="497.8" y1="837.95" x2="502.8" y2="837.95" stroke="#000" stroke-width="2.5"/>
<line x1="858.4" y1="837.95" x2="853.4" y2="837.95" stroke="#000" stroke-width="2.5"/>
<line x1="497.8" y1="824.4" x2="502.8" y2="824.4" stroke="#000" stroke-width="2.5"/>
<line x1="858.4" y1="824.4" x2="853.4" y2="824.4" stroke="#000" stroke-width="2.5"/>
<line x1="497.8" y1="810.85" x2="502.8" y2="810.85" stroke="#000" stroke-width="2.5"/>
<line x1="858.4" y1="810.85" x2="853.4" y2="810.85" stroke="#000" stroke-width="2.5"/>
<line x1="497.8" y1="797.3" x2="502.8" y2="797.3" stroke="#000" stroke-width="2.5"/>
<line x1="858.4" y1="797.3" x2="853.4" y2="797.3" stroke="#000" stroke-width="2.5"/>
<rect x="497.8" y="784" width="360.6" height="352" fill="none" stroke="#000" stroke-width="3"/>
<g font-family="'Liberation Sans', sans-serif" style="font-kerning:none">
<text x="129.07" y="37.44" font-size="38.59" textLength="12.37" lengthAdjust="spacingAndGlyphs" stroke="#000" stroke-width="0.25">(</text>
<text x="145.16" y="37.85" font-size="38.24" textLength="18.46" lengthAdjust="spacingAndGlyphs" stroke="#000" stroke-width="0.25">a</text>
<text x="170.15" y="37.44" font-size="38.59" textLength="12.75" lengthAdjust="spacingAndGlyphs" stroke="#000" stroke-width="0.25">)</text>
<text x="777.35" y="38.1" font-size="41.49" textLength="23.92" lengthAdjust="spacingAndGlyphs">+</text>
<text x="804.88" y="34.49" font-size="34.67" textLength="18.94" lengthAdjust="spacingAndGlyphs" stroke="#000" stroke-width="0.25">3</text>
<text x="824.1" y="39.19" font-size="41.8" textLength="14.1" lengthAdjust="spacingAndGlyphs" stroke="#fff" stroke-width="0.7">/</text>
<text x="840.86" y="33.92" font-size="33.87" textLength="18.98" lengthAdjust="spacingAndGlyphs" stroke="#000" stroke-width="0.25">2</text>
<text x="776.45" y="101.1" font-size="41.49" textLength="23.92" lengthAdjust="spacingAndGlyphs">+</text>
<text x="803.78" y="96.93" font-size="33.65" textLength="17.48" lengthAdjust="spacingAndGlyphs" stroke="#000" stroke-width="0.25">1</text>
<text x="822.8" y="102.19" font-size="41.67" textLength="14.5" lengthAdjust="spacingAndGlyphs" stroke="#fff" stroke-width="0.7">/</text>
<text x="839.55" y="96.93" font-size="33.15" textLength="19.11" lengthAdjust="spacingAndGlyphs" stroke="#000" stroke-width="0.25">2</text>
<text x="780.48" y="177.92" font-size="42.24" textLength="14.05" lengthAdjust="spacingAndGlyphs">-</text>
<text x="796.78" y="177.43" font-size="34.38" textLength="17.48" lengthAdjust="spacingAndGlyphs" stroke="#000" stroke-width="0.25">1</text>
<text x="815.8" y="182.3" font-size="41.12" textLength="14.5" lengthAdjust="spacingAndGlyphs" stroke="#fff" stroke-width="0.7">/</text>
<text x="832.94" y="177.43" font-size="33.87" textLength="19.23" lengthAdjust="spacingAndGlyphs" stroke="#000" stroke-width="0.25">2</text>
<text x="782.18" y="283.81" font-size="43.52" textLength="14.73" lengthAdjust="spacingAndGlyphs">-</text>
<text x="798.69" y="282.98" font-size="35.38" textLength="18.71" lengthAdjust="spacingAndGlyphs" stroke="#000" stroke-width="0.25">3</text>
<text x="818" y="287.49" font-size="42.08" textLength="14.5" lengthAdjust="spacingAndGlyphs" stroke="#fff" stroke-width="0.7">/</text>
<text x="834.91" y="282.52" font-size="34.16" textLength="19.47" lengthAdjust="spacingAndGlyphs" stroke="#000" stroke-width="0.25">2</text>
<text x="251.42" y="289.42" font-size="38.59" textLength="24.88" lengthAdjust="spacingAndGlyphs" stroke="#000" stroke-width="0.25">B</text>
<text x="121.68" y="383.12" font-size="38.16" textLength="11.24" lengthAdjust="spacingAndGlyphs" stroke="#000" stroke-width="0.25">(</text>
<text x="138.05" y="383.25" font-size="37.92" textLength="20.96" lengthAdjust="spacingAndGlyphs" stroke="#000" stroke-width="0.25">b</text>
<text x="163.16" y="383.12" font-size="38.16" textLength="12.37" lengthAdjust="spacingAndGlyphs" stroke="#000" stroke-width="0.25">)</text>
<text x="213.87" y="418.17" font-size="36.79" textLength="19.95" lengthAdjust="spacingAndGlyphs" stroke="#000" stroke-width="0.25">0</text>
<text x="244.83" y="418.52" font-size="36.52" textLength="30.73" lengthAdjust="spacingAndGlyphs" stroke="#000" stroke-width="0.25">m</text>
<text x="276.35" y="418.52" font-size="37.57" textLength="22.42" lengthAdjust="spacingAndGlyphs" stroke="#000" stroke-width="0.25">T</text>
<text x="356.92" y="418.8" font-size="38.8" textLength="118.15" lengthAdjust="spacingAndGlyphs" fill="#dc0000">9.6 mT</text>
<text x="622.04" y="418.7" font-size="38.8" textLength="137.93" lengthAdjust="spacingAndGlyphs" fill="#0000dc">19.3 mT</text>
<text x="110.7" y="343.2" font-size="34" text-anchor="end">0.15</text>
<text x="110.7" y="442.7" font-size="34" text-anchor="end">0.1</text>
<text x="110.7" y="542.2" font-size="34" text-anchor="end">0.05</text>
<text x="110.7" y="640.7" font-size="34" text-anchor="end">0</text>
<text x="115.4" y="699.6" font-size="34" text-anchor="middle">0</text>
<text x="221.37" y="699.6" font-size="34" text-anchor="middle">100</text>
<text x="327.34" y="699.6" font-size="34" text-anchor="middle">200</text>
<text x="433.31" y="699.6" font-size="34" text-anchor="middle">300</text>
<text x="539.28" y="699.6" font-size="34" text-anchor="middle">400</text>
<text x="645.25" y="699.6" font-size="34" text-anchor="middle">500</text>
<text x="751.22" y="699.6" font-size="34" text-anchor="middle">600</text>
<text x="857.19" y="699.6" font-size="34" text-anchor="middle">700</text>
<text x="340.39" y="737.5" font-size="38.2" textLength="292.45" lengthAdjust="spacingAndGlyphs">Frequency (MHz)</text>
<text x="136.22" y="840.36" font-size="38.48" textLength="12.12" lengthAdjust="spacingAndGlyphs" stroke="#000" stroke-width="0.25">(</text>
<text x="152.2" y="840.56" font-size="37.51" textLength="18.5" lengthAdjust="spacingAndGlyphs" stroke="#000" stroke-width="0.25">c</text>
<text x="174.46" y="840.36" font-size="38.48" textLength="12.12" lengthAdjust="spacingAndGlyphs" stroke="#000" stroke-width="0.25">)</text>
<text x="197.81" y="767.73" font-size="35.1" textLength="18.73" lengthAdjust="spacingAndGlyphs" stroke="#000" stroke-width="0.25">L</text>
<text x="216.01" y="767.73" font-size="33.33" textLength="7.2" lengthAdjust="spacingAndGlyphs" stroke="#000" stroke-width="0.25">i</text>
<text x="237.1" y="767.73" font-size="33.33" textLength="8.22" lengthAdjust="spacingAndGlyphs" stroke="#000" stroke-width="0.25">i</text>
<text x="245.82" y="767.73" font-size="34.47" textLength="32.04" lengthAdjust="spacingAndGlyphs" stroke="#000" stroke-width="0.25">m</text>
<text x="279.22" y="766.89" font-size="32.95" textLength="19.48" lengthAdjust="spacingAndGlyphs" stroke="#000" stroke-width="0.25">p</text>
<text x="300.77" y="767.73" font-size="34.57" textLength="6.95" lengthAdjust="spacingAndGlyphs" stroke="#000" stroke-width="0.25">l</text>
<text x="309.55" y="767.79" font-size="34.59" textLength="16.08" lengthAdjust="spacingAndGlyphs" stroke="#000" stroke-width="0.25">a</text>
<text x="329.75" y="767.73" font-size="34.47" textLength="19.44" lengthAdjust="spacingAndGlyphs" stroke="#000" stroke-width="0.25">n</text>
<text x="350.94" y="767.85" font-size="35.38" textLength="11.59" lengthAdjust="spacingAndGlyphs" stroke="#000" stroke-width="0.25">t</text>
<text x="112" y="795" font-size="34" text-anchor="end">0.14</text>
<text x="112" y="841.9" font-size="34" text-anchor="end">0.12</text>
<text x="112" y="888.8" font-size="34" text-anchor="end">0.1</text>
<text x="112" y="935.7" font-size="34" text-anchor="end">0.08</text>
<text x="112" y="982.6" font-size="34" text-anchor="end">0.06</text>
<text x="112" y="1029.5" font-size="34" text-anchor="end">0.04</text>
<text x="112" y="1076.4" font-size="34" text-anchor="end">0.02</text>
<text x="112" y="1122.2" font-size="34" text-anchor="end">0</text>
<text x="116.3" y="1165.5" font-size="34" text-anchor="middle">320</text>
<text x="187.8" y="1165.5" font-size="34" text-anchor="middle">330</text>
<text x="258.5" y="1165.5" font-size="34" text-anchor="middle">340</text>
<text x="329.3" y="1165.5" font-size="34" text-anchor="middle">350</text>
<text x="399.9" y="1165.5" font-size="34" text-anchor="middle">360</text>
<text x="524.1" y="829.36" font-size="38.48" textLength="12.75" lengthAdjust="spacingAndGlyphs" stroke="#000" stroke-width="0.25">(</text>
<text x="540.99" y="829.55" font-size="38.33" textLength="20.96" lengthAdjust="spacingAndGlyphs" stroke="#000" stroke-width="0.25">d</text>
<text x="566.76" y="829.36" font-size="38.48" textLength="11.99" lengthAdjust="spacingAndGlyphs" stroke="#000" stroke-width="0.25">)</text>
<text x="646.94" y="770.78" font-size="35.68" textLength="20.09" lengthAdjust="spacingAndGlyphs" stroke="#000" stroke-width="0.25">e</text>
<text x="666.73" y="768.31" font-size="30.72" textLength="15.14" lengthAdjust="spacingAndGlyphs">-</text>
<text x="682.43" y="770.52" font-size="33.74" textLength="8.47" lengthAdjust="spacingAndGlyphs" stroke="#000" stroke-width="0.25">i</text>
<text x="690.6" y="770.52" font-size="35.22" textLength="11.92" lengthAdjust="spacingAndGlyphs" stroke="#000" stroke-width="0.25">r</text>
<text x="703" y="770.52" font-size="35.22" textLength="11.92" lengthAdjust="spacingAndGlyphs" stroke="#000" stroke-width="0.25">r</text>
<text x="718.92" y="770.78" font-size="35.68" textLength="17.7" lengthAdjust="spacingAndGlyphs" stroke="#000" stroke-width="0.25">a</text>
<text x="739.74" y="770.79" font-size="34.11" textLength="20.34" lengthAdjust="spacingAndGlyphs" stroke="#000" stroke-width="0.25">d</text>
<text x="862.1" y="793.85" font-size="34">0.25</text>
<text x="862.1" y="861.6" font-size="34">0.20</text>
<text x="862.1" y="929.35" font-size="34">0.15</text>
<text x="862.1" y="997.1" font-size="34">0.10</text>
<text x="862.1" y="1064.85" font-size="34">0.05</text>
<text x="862.1" y="1131.5" font-size="34">0</text>
<text x="522" y="1165.4" font-size="34" text-anchor="middle">330</text>
<text x="594.5" y="1165.4" font-size="34" text-anchor="middle">340</text>
<text x="666.3" y="1165.4" font-size="34" text-anchor="middle">350</text>
<text x="738" y="1165.4" font-size="34" text-anchor="middle">360</text>
<text x="809.9" y="1165.4" font-size="34" text-anchor="middle">370</text>
<text x="355.09" y="1207.6" font-size="38.2" textLength="292.76" lengthAdjust="spacingAndGlyphs">Frequency (MHz)</text>
<text x="-585.28" y="32" font-size="38.6" textLength="184.02" lengthAdjust="spacingAndGlyphs" transform="rotate(-90)">ODMR (%)</text>
<text x="-1054.28" y="36.9" font-size="38.6" textLength="184.12" lengthAdjust="spacingAndGlyphs" transform="rotate(-90)">ODMR (%)</text>
<text x="855.42" y="-936.2" font-size="38.6" textLength="183.71" lengthAdjust="spacingAndGlyphs" transform="rotate(90)">ODMR (%)</text>
</g>
<rect x="624.19" y="414.8" width="7.15" height="4.5" fill="#fff"/>
<rect x="634.96" y="414.8" width="6.86" height="4.5" fill="#fff"/>
<rect x="74.77" y="339.66" width="6.51" height="4.14" fill="#fff"/>
<rect x="84.59" y="339.66" width="6.24" height="4.14" fill="#fff"/>
<rect x="93.68" y="439.16" width="6.51" height="4.14" fill="#fff"/>
<rect x="103.5" y="439.16" width="6.24" height="4.14" fill="#fff"/>
<rect x="194.9" y="696.06" width="6.51" height="4.14" fill="#fff"/>
<rect x="204.71" y="696.06" width="6.24" height="4.14" fill="#fff"/>
<rect x="76.07" y="791.46" width="6.51" height="4.14" fill="#fff"/>
<rect x="85.89" y="791.46" width="6.24" height="4.14" fill="#fff"/>
<rect x="76.07" y="838.36" width="6.51" height="4.14" fill="#fff"/>
<rect x="85.89" y="838.36" width="6.24" height="4.14" fill="#fff"/>
<rect x="399.1" y="874.1" width="194.6" height="150" fill="#fff" stroke="#000" stroke-width="2.2"/>
<line x1="418.9" y1="899.7" x2="463.8" y2="899.7" stroke="#000" stroke-width="2"/>
<line x1="418.9" y1="932.8" x2="463.8" y2="932.8" stroke="#dc0000" stroke-width="2"/>
<line x1="418.9" y1="965.6" x2="463.8" y2="965.6" stroke="#006414" stroke-width="2"/>
<line x1="418.9" y1="998.5" x2="463.8" y2="998.5" stroke="#1e64ff" stroke-width="2"/>
<g font-family="'Liberation Sans', sans-serif" style="font-kerning:none">
<text x="480.76" y="907.6" font-size="29.5" textLength="105.63" lengthAdjust="spacingAndGlyphs">-10dBm</text>
<text x="480.75" y="942.2" font-size="29.5" textLength="89.24" lengthAdjust="spacingAndGlyphs" fill="#dc0000">-5dBm</text>
<text x="481.02" y="976.3" font-size="29.5" textLength="78.66" lengthAdjust="spacingAndGlyphs" fill="#006414">0dBm</text>
<text x="481.87" y="1009.7" font-size="29.5" textLength="77.79" lengthAdjust="spacingAndGlyphs" fill="#1e64ff">7dBm</text>
</g>
<rect x="94.98" y="885.26" width="6.51" height="4.14" fill="#fff"/>
<rect x="104.8" y="885.26" width="6.24" height="4.14" fill="#fff"/>
<rect x="892.35" y="925.81" width="6.51" height="4.14" fill="#fff"/>
<rect x="902.16" y="925.81" width="6.24" height="4.14" fill="#fff"/>
<rect x="892.35" y="993.56" width="6.51" height="4.14" fill="#fff"/>
<rect x="902.16" y="993.56" width="6.24" height="4.14" fill="#fff"/>
<rect x="492.41" y="904.4" width="5.83" height="3.8" fill="#fff"/>
<rect x="501.21" y="904.4" width="5.59" height="3.8" fill="#fff"/>
</svg>
</body></html>
